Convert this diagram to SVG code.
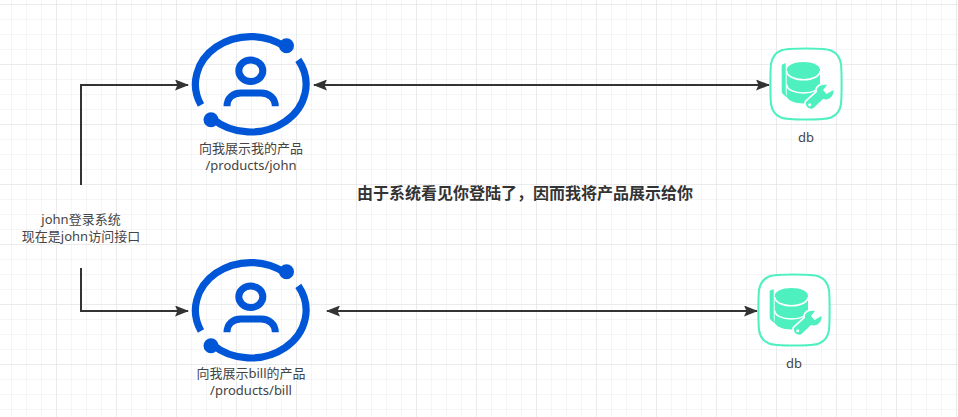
<svg xmlns="http://www.w3.org/2000/svg" width="958" height="417" viewBox="0 0 958 417">
<style>
.t{font-family:"Noto Sans","Noto Sans CJK SC",sans-serif;font-size:13px;fill:#444;text-anchor:middle}
.b{font-family:"Noto Sans CJK SC","Liberation Sans",sans-serif;font-size:16px;font-weight:700;fill:#333;text-anchor:middle}
.c{fill:none;stroke:#333;stroke-width:2}
.r{fill:none;stroke:#0056d6;stroke-width:7.200}
.h{fill:none;stroke:#0056d6;stroke-width:7}
.d{fill:#0056d6}
.m{fill:#4ef0c0}
.g{fill:none;stroke:#fff;stroke-width:1.6}
</style>
<defs>
<pattern id="minor" width="15" height="15" patternUnits="userSpaceOnUse" x="-3" y="-10"><path d="M15 0V15M0 15H15" fill="none" stroke="#ebebeb" stroke-width="1"/></pattern>
<pattern id="major" width="60" height="60" patternUnits="userSpaceOnUse" x="-3" y="5"><path d="M60 0V60M0 60H60" fill="none" stroke="#e0e0e0" stroke-width="1"/></pattern>
<marker id="ah" markerUnits="userSpaceOnUse" markerWidth="14" markerHeight="11" refX="13" refY="5.500" orient="auto-start-reverse"><path d="M0 0L14 5.500L0 11L2.500 5.500Z" fill="#333"/></marker>
<g id="user">
<path class="r" d="M201 105.100A55.300 47.700 0 0 1 285 46.800"/>
<circle class="d" cx="286.500" cy="45.700" r="7.500"/>
<path class="r" d="M298.300 59.900A55.300 47.700 0 0 1 212 118.300"/>
<circle class="d" cx="211" cy="119.700" r="7.500"/>
<ellipse class="h" cx="250.800" cy="70.800" rx="12" ry="10.700"/>
<path class="h" d="M227 106.300C227 98 233 93 241 93H261C269 93 275.300 98 275.300 106.300"/>
</g>
<g id="dbicon">
<path fill="#fff" stroke="#4ef0c0" stroke-width="2" d="M806 48.500C818 48.500 826 48.500 831 50.500C837 53 840 58 841 64C841.800 72 841.800 96 841 104C840 111 837 115 831 117.500C826 119.500 818 119.500 806 119.500C794 119.500 786 119.500 781 117.500C775 115 772 111 771 104C770.200 96 770.200 72 771 64C772 58 775 53 781 50.500C786 48.500 794 48.500 806 48.500Z"/>
<path class="m" d="M781.700 65C783 64 784.500 63.500 785.700 63V91C785.700 94 786.500 96 788 97.500C784.500 96 781.700 94 781.700 91Z"/>
<path class="m" d="M786.700 70C786.700 65.500 794 62 803.500 62S820 65.500 820 70V96C820 100 812.500 103.500 803.500 103.500S786.700 100 786.700 96Z"/>
<path class="g" d="M786.700 71C786.700 76 794 79.700 803.500 79.700S820 76 820 71"/>
<path class="g" d="M786.700 84.500C786.700 89.500 794 93 803.500 93S820 89.500 820 84.500"/>
<path fill="#fff" stroke="#fff" stroke-width="3.500" d="M806.500 101.500L817 92C816 87 821 84 827 85L823 90L826.500 94L833.500 90C834 96 829 101 823 99L813.500 108C810 111 803.500 105 806.500 101.500Z"/>
<path class="m" d="M806.500 101.500L817 92C816 87 821 84 827 85L823 90L826.500 94L833.500 90C834 96 829 101 823 99L813.500 108C810 111 803.500 105 806.500 101.500Z"/>
<circle cx="809.700" cy="104.800" r="1.500" fill="#fff"/>
</g>
</defs>
<rect width="958" height="417" fill="#fff"/>
<rect width="958" height="417" fill="url(#minor)"/>
<rect width="958" height="417" fill="url(#major)"/>
<g id="connectors">
<path class="c" d="M81 185V85H188" marker-end="url(#ah)"/>
<path class="c" d="M81 268V311H188" marker-end="url(#ah)"/>
<path class="c" d="M314 85H769" marker-start="url(#ah)" marker-end="url(#ah)"/>
<path class="c" d="M327 311H757" marker-start="url(#ah)" marker-end="url(#ah)"/>
</g>
<g id="john-user"><text class="t"><tspan x="251" y="152.500">向我展示我的产品</tspan><tspan x="251" y="169.500">/products/john</tspan></text><use href="#user"/></g>
<g id="bill-user"><text class="t"><tspan x="251" y="378">向我展示bill的产品</tspan><tspan x="251" y="395">/products/bill</tspan></text><use href="#user" y="226"/></g>
<g id="db-john"><use href="#dbicon"/><text class="t" x="806" y="142">db</text></g>
<g id="db-bill"><use href="#dbicon" x="-12" y="226"/><text class="t" x="794" y="368">db</text></g>
<g id="login"><text class="t"><tspan x="81" y="223.500">john登录系统</tspan><tspan x="81" y="240.500">现在是john访问接口</tspan></text></g>
<g id="note"><text class="b" x="525" y="199">由于系统看见你登陆了，因而我将产品展示给你</text></g>
</svg>
